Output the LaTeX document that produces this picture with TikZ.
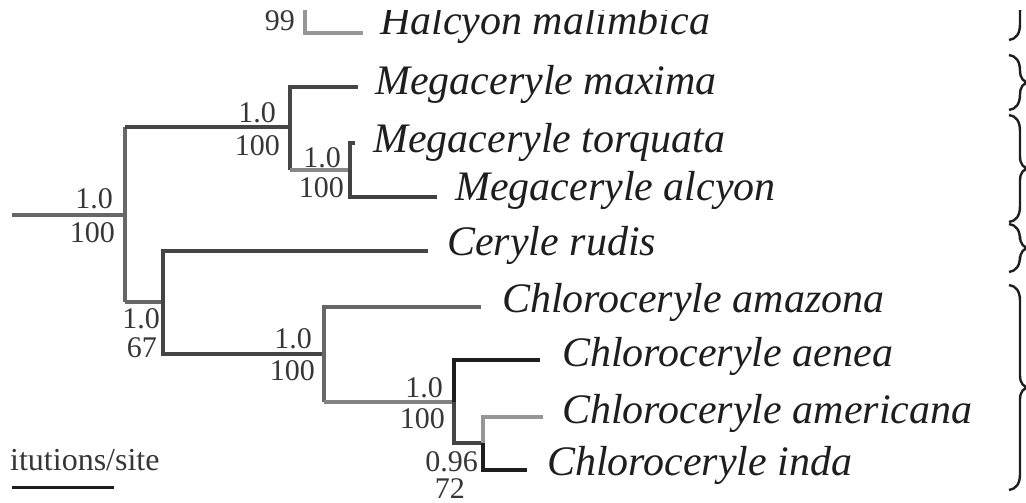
\documentclass[tikz,border=0pt]{standalone}
\usepackage{fontspec}
\setmainfont{Liberation Serif}
\definecolor{gdark}{HTML}{454545}
\definecolor{gmid}{HTML}{676767}
\definecolor{glight}{HTML}{969696}
\definecolor{ink}{HTML}{1E1E1E}
\definecolor{numcol}{HTML}{363636}
% a right-hand curly brace from y=#1 down to y=#2 on the right margin
\newcommand\drawgroupbrace[2]{%
  \pgfmathsetmacro\gbmid{(#1+#2)/2}%
  \draw[groupbrace] (1009,#1) .. controls (1016,#1+1) and (1020,#1+6) .. (1020,#1+16)
    -- (1020,\gbmid-12) .. controls (1020,\gbmid-4) and (1024,\gbmid) .. (1029,\gbmid)
    .. controls (1024,\gbmid) and (1020,\gbmid+4) .. (1020,\gbmid+12)
    -- (1020,#2-16) .. controls (1020,#2-6) and (1016,#2-1) .. (1009,#2);}
\begin{document}
\begin{tikzpicture}[x=1pt,y=-1pt,
  branch/.style={line width=3.5pt,line join=miter},
  taxon/.style={anchor=base west,inner sep=0pt,text=ink,
    font=\fontsize{42}{48}\selectfont\itshape},
  support/.style={anchor=base east,inner sep=0pt,text=numcol,
    font=\fontsize{30}{34}\selectfont},
  groupbrace/.style={line width=2.4pt,ink}]
\useasboundingbox (0,0) rectangle (1026,503);
\clip (0,11) rectangle (1026,503);

% internal nodes
\coordinate (root) at (12,215);
\coordinate (nR) at (125,215);
\coordinate (nA) at (290,127);
\coordinate (nB) at (350,170);
\coordinate (nC) at (163,302);
\coordinate (nD) at (324,354);
\coordinate (nE) at (454,402);
\coordinate (nF) at (483,443);
\coordinate (nH) at (305,0);

% branch tips
\coordinate (tHal) at (363,33);
\coordinate (tMax) at (358,87);
\coordinate (tTor) at (355,143);
\coordinate (tAlc) at (437,197);
\coordinate (tRud) at (428,251);
\coordinate (tAma) at (481,307);
\coordinate (tAen) at (540,360);
\coordinate (tAme) at (543,417);
\coordinate (tInd) at (527,470);

% branches
\draw[branch,gmid] (root) -- (nR);
\draw[branch,gmid] (nR |- nA) -- (nR |- nC);
\draw[branch,gdark] (nR |- nA) -- (nA);
\draw[branch,gmid] (nR |- nC) -- (nC);
\draw[branch,gdark] (nA) |- (tMax);
\draw[branch,gdark] (nA) -- (nA |- nB);
\draw[branch,glight!70!gmid] (nA |- nB) -- (nB);
\draw[branch,gdark] (nB) |- (tTor);
\draw[branch,ink!85] (nB) |- (tAlc);
\draw[branch,glight] (nH) |- (tHal);
\draw[branch,gdark] (nC) |- (tRud);
\draw[branch,gdark] (nC) |- (nD);
\draw[branch,gmid] (nD) |- (tAma);
\draw[branch,gmid] (nD) -- (nD |- nE);
\draw[branch,glight!60!gmid] (nD |- nE) -- (nE);
\draw[branch,ink] (nE) |- (tAen);
\draw[branch,gdark] (nE) |- (nF);
\draw[branch,glight] (nF) |- (tAme);
\draw[branch,ink] (nF) |- (tInd);

% taxon names
\node[taxon] (lHal) at (380,35) {Halcyon malimbica};
\node[taxon] (lMax) at (375,95) {Megaceryle maxima};
\node[taxon] (lTor) at (373,152) {Megaceryle torquata};
\node[taxon] (lAlc) at (455,200) {Megaceryle alcyon};
\node[taxon] (lRud) at (447,255) {Ceryle rudis};
\node[taxon] (lAma) at (502,312) {Chloroceryle amazona};
\node[taxon] (lAen) at (562,366) {Chloroceryle aenea};
\node[taxon] (lAme) at (562,423) {Chloroceryle americana};
\node[taxon] (lInd) at (547,475) {Chloroceryle inda};

% posterior probabilities / bootstrap values
\node[support] (sH) at (295,31) {99};
\node[support] (pR) at (113,208) {1.0};
\node[support] (bR) at (115,242) {100};
\node[support] (pA) at (276,122) {1.0};
\node[support] (bA) at (280,155) {100};
\node[support] (pB) at (341,167) {1.0};
\node[support] (bB) at (344,197) {100};
\node[support] (pC) at (160,328) {1.0};
\node[support] (bC) at (157,357) {67};
\node[support] (pD) at (312,348) {1.0};
\node[support] (bD) at (315,380) {100};
\node[support] (pE) at (443,397) {1.0};
\node[support] (bE) at (445,428) {100};
\node[support] (pF) at (478,471) {0.96};
\node[support] (bF) at (465,498) {72};

% scale bar
\node[anchor=base west,inner sep=0pt,text=numcol,
  font=\fontsize{32}{36}\selectfont] (sbl) at (10,470) {itutions/site};
\coordinate (sb0) at (12,487);
\coordinate (sb1) at (114,487);
\draw[line width=3pt,ink] (sb0) -- (sb1);

% group braces on the right margin
\drawgroupbrace{-40}{40}
\drawgroupbrace{55}{110}
\drawgroupbrace{115}{222}
\drawgroupbrace{224}{272}
\drawgroupbrace{285}{490}
\end{tikzpicture}
\end{document}
